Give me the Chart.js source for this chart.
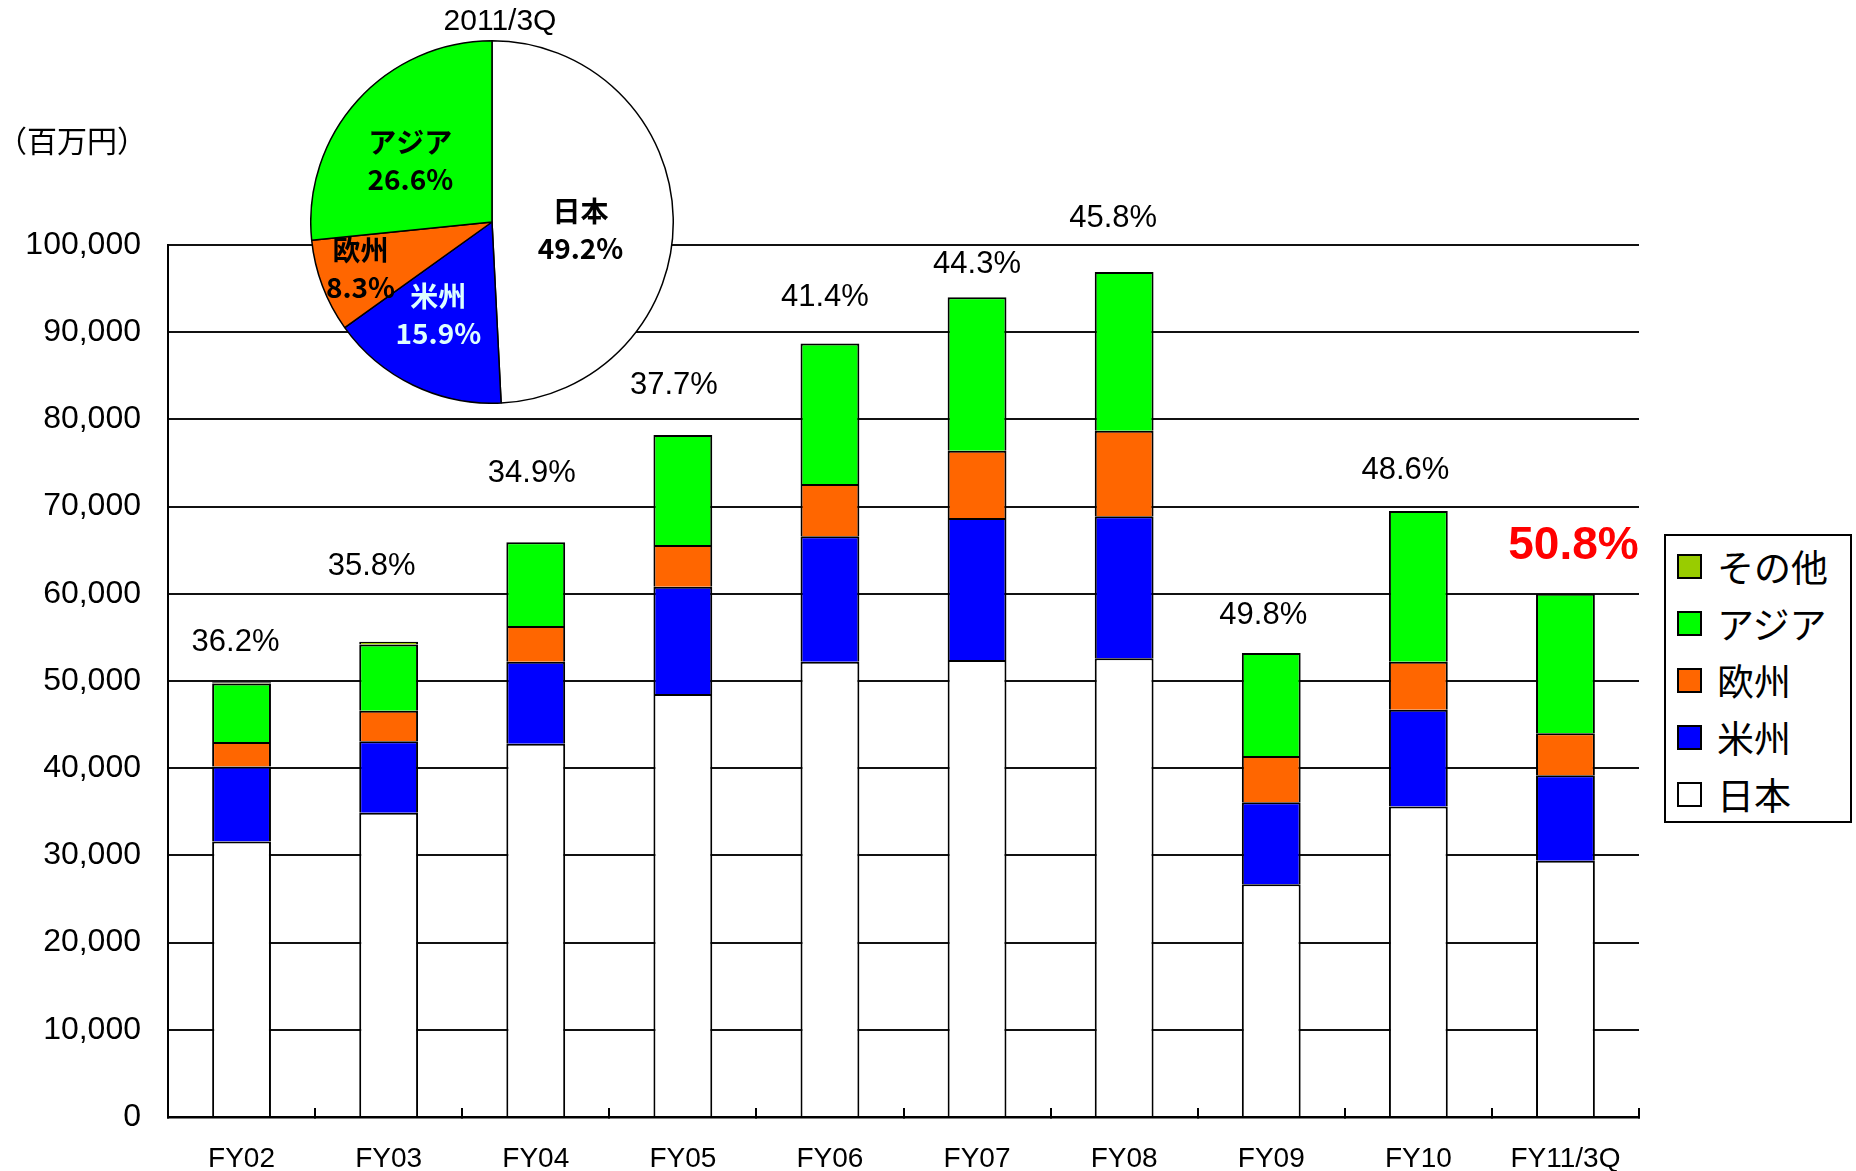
<!DOCTYPE html>
<html>
<head>
<meta charset="utf-8">
<script src="https://cdn.jsdelivr.net/npm/chart.js@4.4.0/dist/chart.umd.min.js"></script>
<style>
  html, body { margin: 0; padding: 0; background: #fff; }
  #wrap { position: relative; width: 1856px; height: 1171px; overflow: hidden; }
  #bar { position: absolute; left: 0; top: 0; }
  #pie { position: absolute; left: 310px; top: 0; }
  #legend { position: absolute; left: 1664px; top: 534px; width: 188px; height: 289px;
            border: 2px solid #000; box-sizing: border-box; padding-top: 2px; background: #fff; }
  .row { height: 57px; display: flex; align-items: center; }
  .sw { width: 25px; height: 25px; border: 2px solid #000; box-sizing: border-box; margin-left: 11px; }
  .lt { margin-left: 15px; font: 37px "Noto Sans CJK JP", sans-serif; color: #000; line-height: 1; }
</style>
</head>
<body>
<div id="wrap">
  <canvas id="bar" width="1856" height="1171"></canvas>
  <canvas id="pie" width="364" height="404"></canvas>
  <div id="legend"></div>
</div>
<script>
// ---------- data ----------
const categories = ['FY02','FY03','FY04','FY05','FY06','FY07','FY08','FY09','FY10','FY11/3Q'];
const japan    = [31600, 34900, 42800, 48500, 52200, 52400, 52600, 26700, 35600, 29400];
const americas = [ 8600,  8200,  9400, 12300, 14400, 16300, 16300,  9400, 11100,  9800];
const europe   = [ 2800,  3500,  4100,  4800,  6000,  7700,  9800,  5300,  5500,  4800];
const asia     = [ 6700,  7600,  9600, 12600, 16100, 17600, 18200, 11800, 17300, 16000];
const other    = [  150,   300,  null,  null,  null,  null,  null,  null,  null,  null];
const overseasRatio = ['36.2%','35.8%','34.9%','37.7%','41.4%','44.3%','45.8%','49.8%','48.6%','50.8%'];
const seriesNames = ['日本','米州','欧州','アジア','その他'];
const pieTitle = '2011/3Q';
const pieLabels = ['日本','米州','欧州','アジア'];
const pieShares = [49.2, 15.9, 8.3, 26.6];
const unitLabel = '（百万円）';
const yMax = 100000, yStep = 10000;

// ---------- styles ----------
const COLORS = { '日本':'#ffffff', '米州':'#0000ff', '欧州':'#ff6600', 'アジア':'#00ff00', 'その他':'#99cc00' };
const LATIN = '"Liberation Sans", Arial, sans-serif';
const CJK = '"Noto Sans CJK JP", sans-serif';
// label placement relative to each bar top (pixels): [dx, dy]
const RATIO_LABEL_SHIFT = [[-6,40],[-17,75],[-4,69],[-9,50],[-5,46],[0,33],[-11,54],[-8,38],[-13,41],[8,47]];

const seriesData = [japan, americas, europe, asia, other];
const datasets = seriesNames.map((n, k) => ({
  label: n,
  data: seriesData[k],
  backgroundColor: COLORS[n],
  borderColor: '#000',
  borderWidth: 2,
  barPercentage: 0.4,
  categoryPercentage: 1.0,
  stack: 's'
}));

const ratioPlugin = {
  id: 'ratioLabels',
  afterDatasetsDraw(chart) {
    const { ctx, scales: { x, y } } = chart;
    ctx.save();
    ctx.textAlign = 'center';
    ctx.textBaseline = 'middle';
    categories.forEach((c, i) => {
      const total = seriesData.reduce((s, arr) => s + (arr[i] || 0), 0);
      const px = x.getPixelForValue(i);
      const py = y.getPixelForValue(total);
      const last = i === categories.length - 1;
      ctx.font = last ? 'bold 46px ' + LATIN : '31px ' + LATIN;
      ctx.fillStyle = last ? '#ff0000' : '#000';
      const [dx, dy] = RATIO_LABEL_SHIFT[i];
      ctx.fillText(overseasRatio[i], px + dx, py - dy);
    });
    ctx.font = '30px ' + CJK;
    ctx.fillStyle = '#000';
    ctx.fillText(unitLabel, 72, 141);
    ctx.restore();
  }
};

new Chart(document.getElementById('bar'), {
  type: 'bar',
  data: { labels: categories, datasets },
  options: {
    responsive: false,
    animation: false,
    devicePixelRatio: 1,
    layout: { padding: { top: 245, right: 217, left: 0, bottom: 0 } },
    plugins: { legend: { display: false }, tooltip: { enabled: false } },
    scales: {
      x: {
        stacked: true,
        offset: true,
        grid: { display: true, drawOnChartArea: false, drawTicks: true, tickLength: -9,
                offset: true, color: '#000', lineWidth: 2 },
        border: { display: true, color: '#000', width: 2.5 },
        ticks: { font: { family: LATIN, size: 28 }, color: '#000', padding: 34,
                 maxRotation: 0, autoSkip: false },
        afterFit(s) { s.height = 54; }
      },
      y: {
        stacked: true,
        min: 0, max: yMax,
        grid: { color: '#111', lineWidth: 2, drawTicks: false },
        border: { display: true, color: '#000', width: 2 },
        ticks: { stepSize: yStep, font: { family: LATIN, size: 32 }, color: '#000', padding: 27,
                 callback: v => Number(v).toLocaleString('en-US') },
        afterFit(s) { s.width = 168; }
      }
    }
  },
  plugins: [ratioPlugin]
});

// ---------- pie ----------
// per-slice label placement: fraction of radius, angular nudge (degrees)
const PIE_LABEL_POS = [[0.49, 6.4], [0.59, 4.4], [0.77, 1.2], [0.565, -5]];
const pieLabelColors = ['#000', '#ddffff', '#000', '#000'];
const pieLabelPlugin = {
  id: 'pieLabels',
  afterDatasetsDraw(chart) {
    const { ctx } = chart;
    const meta = chart.getDatasetMeta(0);
    ctx.save();
    ctx.textAlign = 'center';
    ctx.textBaseline = 'middle';
    ctx.font = 'bold 28px ' + CJK;
    meta.data.forEach((arc, i) => {
      const [f, nudge] = PIE_LABEL_POS[i];
      const mid = (arc.startAngle + arc.endAngle) / 2 + nudge * Math.PI / 180;
      const r = arc.outerRadius * f;
      const cx = arc.x + Math.cos(mid) * r;
      const cy = arc.y + Math.sin(mid) * r;
      ctx.fillStyle = pieLabelColors[i];
      ctx.fillText(pieLabels[i], cx, cy - 18);
      ctx.fillText(pieShares[i].toFixed(1) + '%', cx, cy + 19);
    });
    const a = meta.data[0];
    ctx.font = '30px ' + LATIN;
    ctx.fillStyle = '#000';
    ctx.fillText(pieTitle, a.x + 8, 22);
    ctx.restore();
  }
};

new Chart(document.getElementById('pie'), {
  type: 'pie',
  data: {
    labels: pieLabels,
    datasets: [{
      data: pieShares,
      backgroundColor: pieLabels.map(n => COLORS[n]),
      borderColor: '#000',
      borderWidth: 1.5
    }]
  },
  options: {
    responsive: false,
    animation: false,
    devicePixelRatio: 1,
    layout: { padding: { top: 40 } },
    plugins: {
      legend: { display: false },
      tooltip: { enabled: false },
      title: { display: false }
    }
  },
  plugins: [pieLabelPlugin]
});

// ---------- legend ----------
const legendEl = document.getElementById('legend');
seriesNames.slice().reverse().forEach(n => {
  const row = document.createElement('div');
  row.className = 'row';
  const sw = document.createElement('div');
  sw.className = 'sw';
  sw.style.background = COLORS[n];
  const t = document.createElement('span');
  t.className = 'lt';
  t.textContent = n;
  row.appendChild(sw);
  row.appendChild(t);
  legendEl.appendChild(row);
});
</script>
</body>
</html>
